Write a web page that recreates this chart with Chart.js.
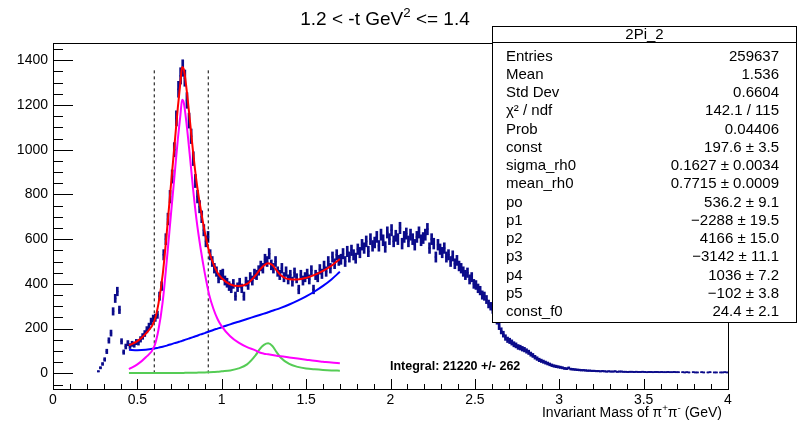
<!DOCTYPE html>
<html>
<head>
<meta charset="utf-8">
<title>2Pi_2 invariant mass</title>
<script src="https://cdn.jsdelivr.net/npm/chart.js@4.4.0/dist/chart.umd.min.js"></script>
<style>
  html, body { margin: 0; padding: 0; background: #fff; }
  #wrap { width: 797px; height: 424px; }
</style>
</head>
<body>
<div id="wrap"><canvas id="massChart" width="797" height="424"></canvas></div>
<script>
// pi+ pi- invariant mass histogram, 0.0125 GeV bins from 0.2625 GeV
const histStart = 0.2625;
const binWidth = 0.0125;
const counts = [
    9, 25, 42, 62, 98, 147, 180, 277, 335, 366, 284, 143, 95, 120, 135,
    122, 132, 128, 140, 138, 152, 165, 178,
    195, 210, 232, 245, 248, 262, 345, 390,
    530, 600, 690, 790, 880, 1000, 1140, 1270,
    1330, 1365, 1320, 1220, 1130, 1060, 960, 860,
    790, 745, 700, 640, 590, 610, 530, 500,
    470, 455, 425, 440, 445, 415, 405, 390,
    380, 400, 345, 385, 405, 380, 345, 410,
    395, 430, 415, 445, 440, 460, 480, 470,
    510, 500, 535, 485, 470, 500, 455, 440,
    470, 430, 455, 420, 440, 410, 450, 425,
    375, 440, 415, 430, 445, 420, 460, 375,
    440, 430, 465, 445, 480, 455, 500, 470,
    520, 490, 530, 505, 510, 535, 500, 545,
    520, 550, 530, 515, 555, 540, 575, 560,
    590, 545, 600, 570, 585, 610, 570, 620,
    595, 565, 630, 600, 640, 590, 615, 600,
    650, 580, 610, 625, 590, 620, 600, 575,
    610, 630, 595, 605, 620, 645, 560, 600,
    580, 520, 575, 555, 540, 560, 520, 530,
    500, 525, 490, 505, 480, 470, 455, 440,
    450, 420, 430, 400, 395, 380, 370, 350,
    345, 330, 310, 300, 285, 262, 235, 210,
    190, 175, 160, 150, 145, 138, 130, 125,
    118, 115, 110, 106, 100, 94, 86, 80,
    72, 66, 60, 56, 52, 48, 44, 40,
    36, 33, 31, 29, 27, 25, 22, 21,
    24, 19, 18, 17, 16, 15, 14, 14,
    13, 12, 12, 11, 11, 10, 10, 9,
    10, 9, 8, 9, 8, 8, 9, 7,
    8, 8, 7, 7, 6, 7, 7, 6,
    7, 6, 6, 7, 6, 5, 6, 6,
    5, 6, 6, 5, 6, 5, 5, 6,
    5, 5, 6, 5, 5, 0, 5, 4,
    5, 4, 0, 5, 4, 4, 0, 5,
    4, 0, 4, 5, 0, 4, 4, 0,
    4, 4, 5, 4
];

// fit components along the fit range (GeV, counts)
const fitMass = [0.45, 0.5, 0.55, 0.6, 0.625, 0.65, 0.675, 0.7, 0.72, 0.74,
                 0.755, 0.765, 0.775, 0.79, 0.81, 0.83, 0.85, 0.875, 0.9, 0.925,
                 0.95, 0.975, 1.0, 1.05, 1.1, 1.15, 1.2, 1.225, 1.25, 1.275,
                 1.3, 1.325, 1.35, 1.4, 1.45, 1.5, 1.55, 1.6, 1.65, 1.7];
const bgPoly = [105, 103, 105, 111, 115, 119, 124, 130, 135, 139,
                143, 145, 148, 152, 157, 162, 167, 174, 180, 187,
                194, 200, 206, 219, 231, 243, 255, 261, 267, 273,
                280, 286, 293, 308, 325, 344, 366, 391, 420, 454];
const rhoPeak = [19, 40, 72, 120, 195, 320, 510, 720, 883, 1049,
                 1155, 1223, 1210, 1125, 980, 825, 690, 557, 446, 353,
                 290, 243, 210, 166, 137, 117, 103, 93, 88, 85,
                 82, 79, 76, 71, 66, 61, 56, 52, 48, 45];
const f0Peak = [1, 1, 1, 2, 2, 2, 2, 2, 2, 2,
                2, 2, 2, 3, 3, 3, 3, 4, 4, 5,
                6, 7, 9, 13, 22, 40, 80, 108, 127, 134,
                122, 95, 70, 42, 29, 22, 18, 15, 13, 12];

// rho integration window
const rhoWindow = [0.6, 0.92];
const windowTop = 1365;

const xTicks = [0, 0.5, 1, 1.5, 2, 2.5, 3, 3.5, 4];
const yTicks = [0, 200, 400, 600, 800, 1000, 1200, 1400];

const statRows = [
    ['Entries', '259637'],
    ['Mean', '1.536'],
    ['Std Dev', '0.6604'],
    ['\u03C7\u00B2 / ndf', '142.1 / 115'],
    ['Prob', '0.04406'],
    ['const', '197.6 \u00B1 3.5'],
    ['sigma_rh0', '0.1627 \u00B1 0.0034'],
    ['mean_rh0', '0.7715 \u00B1 0.0009'],
    ['po', '536.2 \u00B1 9.1'],
    ['p1', '\u22122288 \u00B1 19.5'],
    ['p2', '4166 \u00B1 15.0'],
    ['p3', '\u22123142 \u00B1 11.1'],
    ['p4', '1036 \u00B1 7.2'],
    ['p5', '\u2212102 \u00B1 3.8'],
    ['const_f0', '24.4 \u00B1 2.1']
];

const FONT = '"Liberation Sans", Arial, Helvetica, sans-serif';
const NAVY = '#0b0b8a';

// build the chart datasets
const binCenters = counts.map((c, i) => histStart + (i + 0.5) * binWidth);
const filled = binCenters.map((x, i) => ({ x: x, v: counts[i] })).filter(p => p.v > 0);

const errorBars = filled.map(p => ({ x: p.x, y: [p.v - Math.sqrt(p.v), p.v + Math.sqrt(p.v)] }));
const binMarks = filled.map(p => ({ x: p.x, y: p.v }));

const curve = arr => fitMass.map((m, i) => ({ x: m, y: arr[i] }));
const totalFit = fitMass.map((m, i) => ({ x: m, y: bgPoly[i] + rhoPeak[i] + f0Peak[i] }));

function lineSet(data, color, order) {
    return {
        type: 'line', data: data, borderColor: color, borderWidth: 2,
        pointRadius: 0, fill: false, cubicInterpolationMode: 'monotone', order: order
    };
}

const datasets = [
    lineSet(totalFit, '#ff0000', 1),
    lineSet(curve(rhoPeak), '#ff00ff', 2),
    lineSet(curve(bgPoly), '#0000ff', 2),
    lineSet(curve(f0Peak), '#55cc55', 2),
    {
        type: 'scatter', data: binMarks, pointStyle: 'line', pointRadius: 1.1,
        pointBorderWidth: 1.5, borderColor: NAVY, backgroundColor: NAVY, order: 5
    },
    {
        type: 'bar', data: errorBars, backgroundColor: NAVY, barThickness: 2,
        grouped: false, order: 6
    }
];

rhoWindow.forEach(m => {
    datasets.push({
        type: 'line', data: [{ x: m, y: 0 }, { x: m, y: windowTop }],
        borderColor: '#000', borderWidth: 1, borderDash: [3, 3],
        pointRadius: 0, fill: false, order: 3
    });
});

// draws a run of text pieces, some of them raised as superscripts
function richText(ctx, pieces, size, x, y, align) {
    const widths = pieces.map(p => {
        ctx.font = (p.sup ? size * 0.7 : size) + 'px ' + FONT;
        return ctx.measureText(p.t).width;
    });
    const total = widths.reduce((a, b) => a + b, 0);
    let cx = align === 'right' ? x - total : align === 'center' ? x - total / 2 : x;
    ctx.textAlign = 'left';
    ctx.textBaseline = 'alphabetic';
    pieces.forEach((p, i) => {
        ctx.font = (p.sup ? size * 0.7 : size) + 'px ' + FONT;
        ctx.fillText(p.t, cx, p.sup ? y - size * 0.42 : y);
        cx += widths[i];
    });
}

const rootStyle = {
    id: 'rootStyle',
    afterDraw(chart) {
        const { ctx, chartArea: a, scales: { x, y } } = chart;
        ctx.save();
        ctx.strokeStyle = '#000';
        ctx.fillStyle = '#000';
        ctx.lineWidth = 1;

        // frame
        ctx.strokeRect(a.left + 0.5, a.top + 0.5, a.right - a.left, a.bottom - a.top);

        // tick marks drawn inside the frame
        ctx.beginPath();
        for (let i = 0; i <= 40; i++) {
            const px = Math.round(x.getPixelForValue(i / 10)) + 0.5;
            const len = i % 5 === 0 ? 10 : 5;
            ctx.moveTo(px, a.bottom);
            ctx.lineTo(px, a.bottom - len);
        }
        for (let v = -50; v <= 1450; v += 50) {
            const py = Math.round(y.getPixelForValue(v)) + 0.5;
            const len = v % 200 === 0 ? 20 : 10;
            ctx.moveTo(a.left, py);
            ctx.lineTo(a.left + len, py);
        }
        ctx.stroke();

        // title
        richText(ctx, [{ t: '1.2 < -t GeV' }, { t: '2', sup: true }, { t: ' <= 1.4' }], 19, 385, 25, 'center');

        // axis title
        richText(ctx, [{ t: 'Invariant Mass of \u03C0' }, { t: '+', sup: true }, { t: '\u03C0' },
                       { t: '-', sup: true }, { t: ' (GeV)' }], 14, 722, 417, 'right');

        // integral label
        ctx.font = 'bold 12.5px ' + FONT;
        ctx.textAlign = 'left';
        ctx.textBaseline = 'middle';
        ctx.fillText('Integral: 21220 +/- 262', 390, 367);

        // stats box
        const bx = 492.5, by = 26.5, bw = 304, bh = 296;
        ctx.fillStyle = '#fff';
        ctx.fillRect(bx, by, bw, bh);
        ctx.strokeRect(bx, by, bw, bh);
        ctx.beginPath();
        ctx.moveTo(bx, 42.5);
        ctx.lineTo(bx + bw, 42.5);
        ctx.stroke();
        ctx.fillStyle = '#000';
        ctx.font = '15px ' + FONT;
        ctx.textBaseline = 'middle';
        ctx.textAlign = 'center';
        ctx.fillText('2Pi_2', bx + bw / 2, 35);
        statRows.forEach((row, i) => {
            const ry = 56.5 + i * 18.25;
            ctx.textAlign = 'left';
            ctx.fillText(row[0], 506, ry);
            ctx.textAlign = 'right';
            ctx.fillText(row[1], 779, ry);
        });
        ctx.restore();
    }
};

const ctx = document.getElementById('massChart').getContext('2d');
new Chart(ctx, {
    type: 'bar',
    data: { datasets: datasets },
    options: {
        responsive: false,
        animation: false,
        devicePixelRatio: 1,
        layout: { padding: { top: 43, right: 69, left: 0, bottom: 0 } },
        plugins: { legend: { display: false }, tooltip: { enabled: false }, title: { display: false } },
        scales: {
            x: {
                type: 'linear', min: 0, max: 4, offset: false,
                grid: { display: false, drawTicks: false },
                border: { display: false },
                afterBuildTicks: s => { s.ticks = xTicks.map(v => ({ value: v })); },
                afterFit: s => { s.height = 35; },
                ticks: {
                    padding: 3, color: '#000', maxRotation: 0, autoSkip: false,
                    font: { family: FONT, size: 14 },
                    callback: v => String(v)
                }
            },
            y: {
                min: -70, max: 1477,
                grid: { display: false, drawTicks: false },
                border: { display: false },
                afterBuildTicks: s => { s.ticks = yTicks.map(v => ({ value: v })); },
                afterFit: s => { s.width = 53; },
                ticks: {
                    padding: 5, color: '#000',
                    font: { family: FONT, size: 14 },
                    callback: v => String(v)
                }
            }
        }
    },
    plugins: [rootStyle]
});
</script>
</body>
</html>
